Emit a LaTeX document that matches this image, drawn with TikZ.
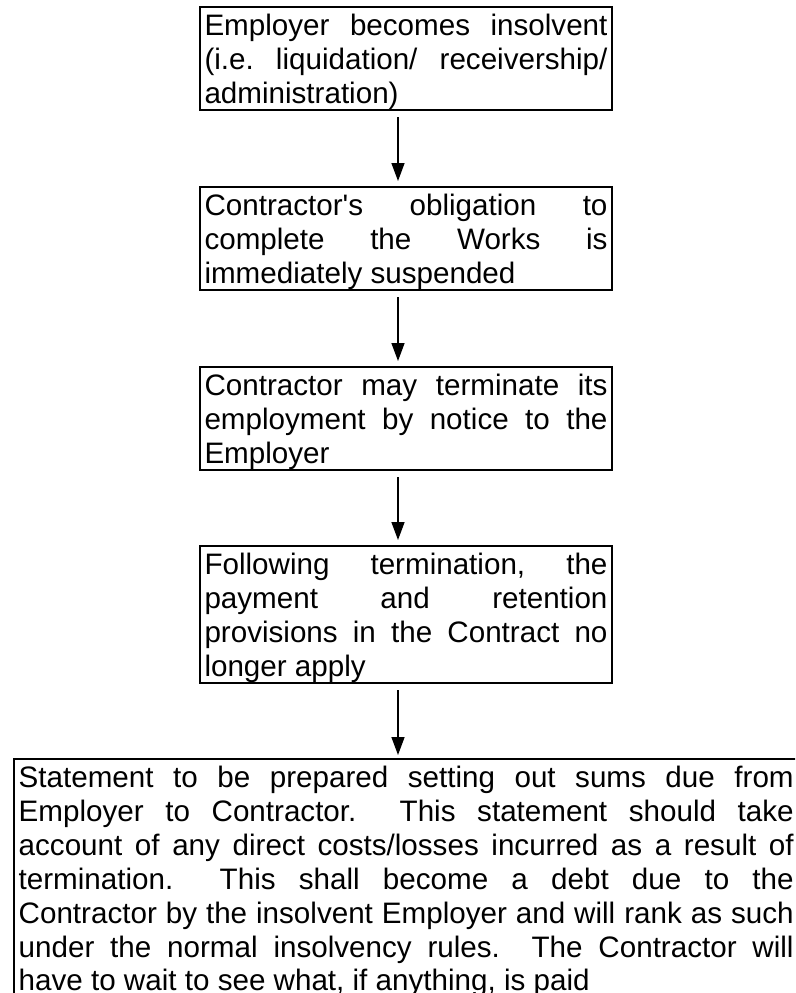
\documentclass[tikz,border=0pt]{standalone}
\usepackage{fontspec}
\setmainfont{Liberation Sans}[Ligatures=TeXOff]
\usetikzlibrary{arrows.meta,calc}
\newcommand\boxfont{\fontsize{29.6pt}{33.9pt}\selectfont\frenchspacing\tolerance=10000\hbadness=10000\hyphenpenalty=10000\exhyphenpenalty=10000}
\newcommand\topstrut{\rule{0pt}{28.5pt}}
\newcommand\botstrut{\rule[-7pt]{0pt}{7pt}}
\tikzset{
  flowbox/.style={draw, line width=2pt, anchor=north west, inner xsep=4.5pt, inner ysep=0pt, align=justify, font=\boxfont},
  flowarrow/.style={line width=1.5pt, -{Triangle[length=18pt,width=13pt]}},
}
\begin{document}
\begin{tikzpicture}[x=1pt,y=-1pt]
\clip (0,0) rectangle (795,993);
\coordinate (ax) at (398,0);
\node[flowbox, text width=403pt] (b1) at (199,6)
  {\topstrut Employer becomes insolvent\linebreak (i.e. liquidation/ receivership/\linebreak administration)\botstrut};
\node[flowbox, text width=403pt] (b2) at (199,186)
  {\topstrut Contractor's obligation to\linebreak complete the Works is\linebreak immediately suspended\botstrut};
\node[flowbox, text width=403pt] (b3) at (199,366)
  {\topstrut Contractor may terminate its\linebreak employment by notice to the\linebreak Employer\botstrut};
\node[flowbox, text width=403pt] (b4) at (199,545)
  {\topstrut Following termination, the\linebreak payment and retention\linebreak provisions in the Contract no\linebreak longer apply\botstrut};
\node[flowbox, text width=775pt, inner xsep=5pt] (b5) at (12.7,758)
  {\topstrut Statement to be prepared setting out sums due from\linebreak
   Employer to Contractor.\ \ This statement should take\linebreak
   account of any direct costs/losses incurred as a result of\linebreak
   termination.\ \ This shall become a debt due to the\linebreak
   Contractor by the insolvent Employer and will rank as such\linebreak
   under the normal insolvency rules.\ \ The Contractor will\linebreak
   have to wait to see what, if anything, is paid\botstrut};
\draw[flowarrow] ($(b1.south -| ax)+(0,6)$) -- ($(b2.north -| ax)+(0,-5)$);
\draw[flowarrow] ($(b2.south -| ax)+(0,6)$) -- ($(b3.north -| ax)+(0,-5)$);
\draw[flowarrow] ($(b3.south -| ax)+(0,6)$) -- ($(b4.north -| ax)+(0,-5)$);
\draw[flowarrow] ($(b4.south -| ax)+(0,6)$) -- ($(b5.north -| ax)+(0,-3)$);
\end{tikzpicture}
\end{document}
